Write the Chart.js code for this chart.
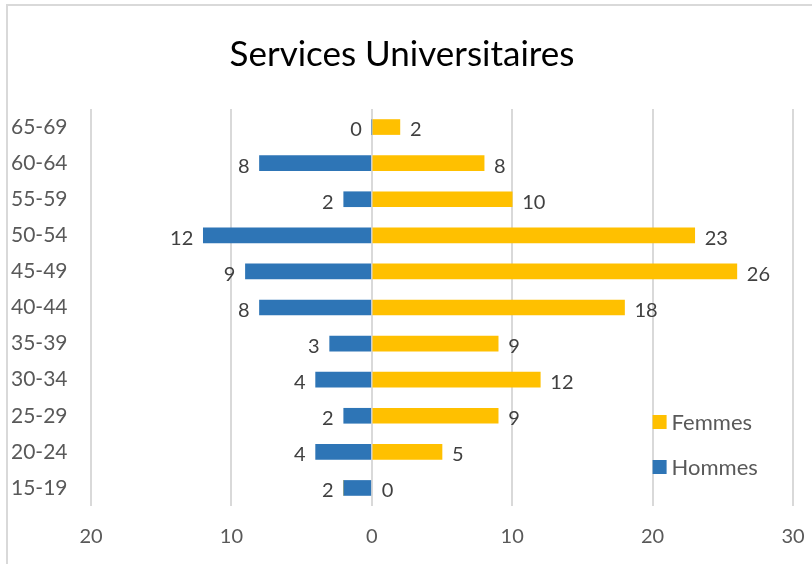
<!DOCTYPE html>
<html>
<head>
<meta charset="utf-8">
<script src="https://cdn.jsdelivr.net/npm/chart.js@4"></script>
<style>
    body { margin: 0; background: #fff; overflow: hidden; }
    #cadre { position: absolute; left: 6px; top: 4px; width: 900px; height: 700px; border: 2px solid #d9d9d9; }
    #graphique { position: absolute; left: 0; top: 0; }
</style>
</head>
<body>
<div id="cadre"></div>
<canvas id="graphique" width="812" height="564"></canvas>
<script>
//Données du graphique
const ages = ["65-69","60-64","55-59","50-54","45-49","40-44","35-39","30-34","25-29","20-24","15-19"];
const hommes = [0, 8, 2, 12, 9, 8, 3, 4, 2, 4, 2];
const femmes = [2, 8, 10, 23, 26, 18, 9, 12, 9, 5, 0];
const ticksX = [-20, -10, 0, 10, 20, 30];

const POLICE = "Lato, 'Open Sans', sans-serif";
const BLEU = "#2e75b6";
const JAUNE = "#ffc000";

//Étiquettes des valeurs au bout des barres
const etiquettes = {
    id: 'etiquettes',
    afterDatasetsDraw(chart){
        const ctx = chart.ctx;
        const zero = chart.scales.x.getPixelForValue(0);
        ctx.save();
        ctx.font = "20px " + POLICE;
        ctx.fillStyle = "#404040";
        ctx.textBaseline = "middle";
        chart.data.datasets.forEach((ds, i) => {
            const meta = chart.getDatasetMeta(i);
            meta.data.forEach((bar, j) => {
                const valeur = ds.data[j];
                const x = valeur === 0 ? zero : bar.x;
                if(i === 0){
                    ctx.textAlign = "right";
                    ctx.fillText(Math.abs(valeur), x - 10, bar.y + 3);
                }
                else{
                    ctx.textAlign = "left";
                    ctx.fillText(valeur, x + 10, bar.y + 3);
                }
            });
        });
        ctx.restore();
    }
};

//Légende dans la zone du graphique
const legende = {
    id: 'legende',
    afterDraw(chart){
        const ctx = chart.ctx;
        const x = chart.scales.x.getPixelForValue(20);
        const items = [["Femmes", JAUNE, 422], ["Hommes", BLEU, 467]];
        ctx.save();
        ctx.font = "22px " + POLICE;
        ctx.textBaseline = "middle";
        ctx.textAlign = "left";
        items.forEach(([nom, couleur, y]) => {
            ctx.fillStyle = couleur;
            ctx.fillRect(x, y - 7, 14, 14);
            ctx.fillStyle = "#595959";
            ctx.fillText(nom, x + 19, y + 1);
        });
        ctx.restore();
    }
};

new Chart(document.getElementById("graphique"), {
    type: 'bar',
    data: {
        labels: ages,
        datasets: [
            { label: "Hommes", data: hommes.map(v => -v), backgroundColor: BLEU, barThickness: 15 },
            { label: "Femmes", data: femmes, backgroundColor: JAUNE, barThickness: 15 }
        ]
    },
    options: {
        indexAxis: 'y',
        responsive: false,
        animation: false,
        devicePixelRatio: 1,
        layout: { padding: { left: 11, right: 19, top: 0, bottom: 0 } },
        plugins: {
            legend: { display: false },
            tooltip: { enabled: false },
            title: {
                display: true,
                text: "Services Universitaires",
                color: "#000000",
                font: { family: POLICE, size: 35, weight: 'normal' },
                padding: { top: 34, bottom: 33 }
            }
        },
        scales: {
            x: {
                stacked: true,
                min: -20,
                max: 30,
                afterBuildTicks(axis){
                    axis.ticks = ticksX.map(v => ({ value: v }));
                },
                ticks: {
                    callback: v => Math.abs(v),
                    color: "#595959",
                    font: { family: POLICE, size: 20 },
                    padding: 19,
                    maxRotation: 0
                },
                grid: { color: "#d9d9d9", lineWidth: 2, drawTicks: false },
                border: { display: false },
                afterFit(axis){
                    axis.height = 58;
                    axis.paddingLeft = 0;
                    axis.paddingRight = 0;
                }
            },
            y: {
                stacked: true,
                ticks: {
                    color: "#595959",
                    font: { family: POLICE, size: 21 },
                    crossAlign: 'far',
                    autoSkip: false
                },
                grid: { display: false },
                border: { display: false },
                afterFit(axis){ axis.width = 80; }
            }
        }
    },
    plugins: [etiquettes, legende]
});
</script>
</body>
</html>
